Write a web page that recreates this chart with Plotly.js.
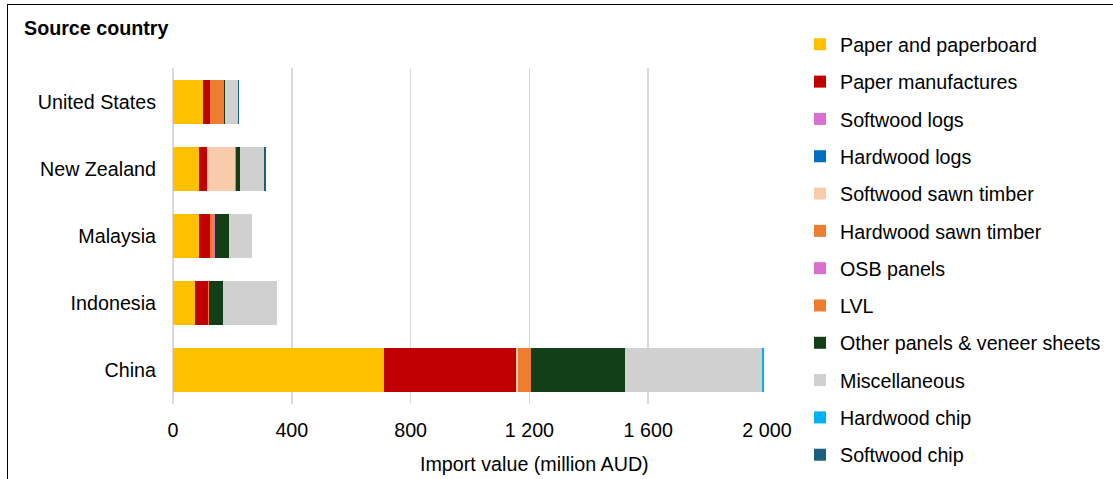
<!DOCTYPE html>
<html>
<head>
<meta charset="utf-8">
<script src="https://cdn.plot.ly/plotly-3.0.1.min.js"></script>
<style>
  html, body { margin: 0; padding: 0; background: #fff; overflow: hidden; }
  #chart { width: 1113px; height: 479px; }
  #frame { position: absolute; left: 7px; top: 4px; width: 1200px; height: 600px;
           border-top: 1.5px solid #000; border-left: 1.5px solid #000; pointer-events: none; }
</style>
</head>
<body>
<div id="chart"></div>
<div id="frame"></div>
<script>
// Categories (bottom to top)
const countries = ['China', 'Indonesia', 'Malaysia', 'New Zealand', 'United States'];

// Series values (million AUD), same order as countries
const paperAndPaperboard   = [712, 75, 89, 89, 101];
const paperManufactures    = [443, 43, 37, 26, 25];
const softwoodLogs         = [0, 0, 0, 1, 0];
const hardwoodLogs         = [0, 0, 0, 0, 0];
const softwoodSawnTimber   = [8, 0, 0, 93, 0];
const hardwoodSawnTimber   = [42, 4, 10, 4, 45];
const osbPanels            = [0, 0, 4, 0, 0];
const lvl                  = [0, 0, 0, 0, 0];
const otherPanelsVeneer    = [318, 47, 47, 11, 4];
const miscellaneous        = [461, 182, 80, 81, 44];
const hardwoodChip         = [6, 0, 0, 0, 0];
const softwoodChip         = [0, 0, 0, 7, 4];

const seriesNames = ['Paper and paperboard', 'Paper manufactures', 'Softwood logs', 'Hardwood logs',
  'Softwood sawn timber', 'Hardwood sawn timber', 'OSB panels', 'LVL',
  'Other panels & veneer sheets', 'Miscellaneous', 'Hardwood chip', 'Softwood chip'];
const seriesValues = [paperAndPaperboard, paperManufactures, softwoodLogs, hardwoodLogs,
  softwoodSawnTimber, hardwoodSawnTimber, osbPanels, lvl,
  otherPanelsVeneer, miscellaneous, hardwoodChip, softwoodChip];
const seriesColors = ['#FFC000', '#C00000', '#DA6FD2', '#0070C0',
  '#F8CBAD', '#ED7D31', '#DA6FD2', '#ED7D31',
  '#123F17', '#D0D0D0', '#00B0F0', '#1B5E82'];

// Axis ticks
const xTickVals = [0, 400, 800, 1200, 1600, 2000];
const xTickText = ['0', '400', '800', '1 200', '1 600', '2 000'];

const FONT = 'Liberation Sans, Arial, sans-serif';
const FS = 19.7;

const traces = seriesNames.map((name, i) => ({
  type: 'bar',
  orientation: 'h',
  name: name,
  y: countries,
  x: seriesValues[i],
  legendgroup: 'g' + i,
  marker: { color: seriesColors[i], line: { width: 0 } },
  hoverinfo: 'name+x'
}));

const layout = {
  width: 1113,
  height: 479,
  margin: { l: 173, r: 346, t: 68, b: 75 },
  paper_bgcolor: '#ffffff',
  plot_bgcolor: '#ffffff',
  barmode: 'stack',
  bargap: 0.346,
  font: { family: FONT, size: FS, color: '#000' },
  title: {
    text: '<b>Source country</b>',
    font: { family: FONT, size: FS, color: '#000' },
    xref: 'container', yref: 'container',
    x: 24 / 1113, xanchor: 'left',
    y: 1 - 28 / 479, yanchor: 'middle'
  },
  xaxis: {
    range: [0, 2000],
    tickvals: xTickVals,
    ticktext: xTickText,
    showgrid: true,
    gridcolor: '#D9D9D9',
    gridwidth: 1.5,
    zeroline: true,
    zerolinecolor: '#D9D9D9',
    zerolinewidth: 1.5,
    showline: false,
    ticks: '',
    ticklabelstandoff: 12,
    tickfont: { family: FONT, size: FS, color: '#000' },
    fixedrange: true
  },
  yaxis: {
    type: 'category',
    showgrid: false,
    zeroline: false,
    showline: false,
    ticks: '',
    ticklabelstandoff: 16,
    tickfont: { family: FONT, size: FS, color: '#000' },
    fixedrange: true
  },
  legend: {
    xref: 'container', yref: 'container',
    x: 800 / 1113, xanchor: 'left',
    y: 1 - 25 / 479, yanchor: 'top',
    traceorder: 'grouped',
    tracegroupgap: 8.7,
    maxheight: 1,
    font: { family: FONT, size: FS, color: '#000' },
    bgcolor: 'rgba(0,0,0,0)'
  },
  annotations: [{
    text: 'Import value (million AUD)',
    xref: 'paper', yref: 'paper',
    x: (534 - 173) / 594, xanchor: 'center',
    y: -(464 - 404) / 336, yanchor: 'middle',
    showarrow: false,
    font: { family: FONT, size: FS, color: '#000' }
  }],
  showlegend: true
};

Plotly.newPlot('chart', traces, layout, { displayModeBar: false, staticPlot: true });
</script>
</body>
</html>
